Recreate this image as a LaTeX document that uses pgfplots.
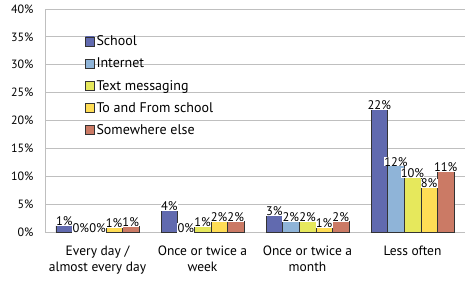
\documentclass[border=0pt]{standalone}
\usepackage{pgfplots}
\pgfplotsset{compat=1.18}
\usepackage{fontspec}
\setmainfont{PT Sans}
\definecolor{cSchool}{HTML}{6670B8}
\definecolor{cInternet}{HTML}{8FB4D8}
\definecolor{cText}{HTML}{E6E85C}
\definecolor{cTo}{HTML}{FFDD55}
\definecolor{cElse}{HTML}{D6806A}
\definecolor{gridc}{HTML}{BFBFBF}
\begin{document}
\begin{tikzpicture}
\begin{axis}[
  name=ax,
  scale only axis, width=420pt, height=223pt,
  ybar=0pt, bar width=16.6pt,
  xmin=-0.5, xmax=3.5, ymin=0, ymax=40,
  ytick={0,5,...,40},
  yticklabel={\pgfmathprintnumber{\tick}\%},
  /pgf/number format/assume math mode=true,
  xtick={0,1,2,3},
  xticklabels={{Every day /\\almost every day},{Once or twice a\\week},{Once or twice a\\month},{Less often}},
  xticklabel style={align=center, font=\fontsize{13.5}{16.5}\selectfont, yshift=-6pt},
  yticklabel style={font=\fontsize{12}{14}\selectfont},
  extra x ticks={-0.5,0.5,1.5,2.5,3.5},
  extra x tick labels={},
  extra x tick style={tick style={gridc, line width=0.8pt}, tickwidth=5pt, grid=none},
  major x tick style={draw=none},
  axis x line*=bottom, axis y line*=left,
  axis line style={gridc, line width=0.8pt},
  ymajorgrids, grid style={gridc, line width=0.8pt},
  ytick style={gridc, line width=0.8pt}, major tick length=4pt,
  y tick label style={xshift=-8pt},
  every outer x axis line/.append style={-},
  every outer y axis line/.append style={-},
  nodes near coords={\pgfmathprintnumber[fixed,precision=0]{\pgfplotspointmeta}\%},
  every node near coord/.append style={font=\fontsize{12.5}{14}\selectfont, fill=white, inner sep=0.3pt, yshift=-1pt},
  legend style={draw=none, fill=none, at={(0.095,0.89)}, anchor=north west, font=\fontsize{14}{15}\selectfont, row sep=6.8pt, inner sep=0pt},
  legend cell align=left,
  legend image code/.code={\draw[#1, draw=black!80] (3pt,-4.5pt) rectangle (12pt,4.5pt);},
  /tikz/every even column/.append style={column sep=0pt},
]
\addplot[left color=cSchool!95!black, middle color=cSchool!75!white, right color=cSchool!95!black, draw=black!80] coordinates {(0,1.15) (1,3.95) (2,3.05) (3,22)};
\addplot[left color=cInternet, middle color=cInternet!70!white, right color=cInternet, draw=black!80] coordinates {(0,0) (1,0) (2,2) (3,11.9)};
\addplot[left color=cText, middle color=cText!70!white, right color=cText, draw=black!80] coordinates {(0,0) (1,1) (2,2) (3,9.9)};
\addplot[left color=cTo, middle color=cTo!70!white, right color=cTo, draw=black!80] coordinates {(0,0.85) (1,2) (2,0.8) (3,8)};
\addplot[left color=cElse!95!black, middle color=cElse!75!white, right color=cElse!95!black, draw=black!80] coordinates {(0,1.1) (1,2) (2,2) (3,10.9)};
\legend{School,Internet,Text messaging,To and From school,Somewhere else}
\end{axis}
\pgfresetboundingbox
\path[use as bounding box] ([xshift=-45pt,yshift=-49pt]ax.south west) rectangle ([yshift=9pt]ax.north east);
\end{tikzpicture}
\end{document}
